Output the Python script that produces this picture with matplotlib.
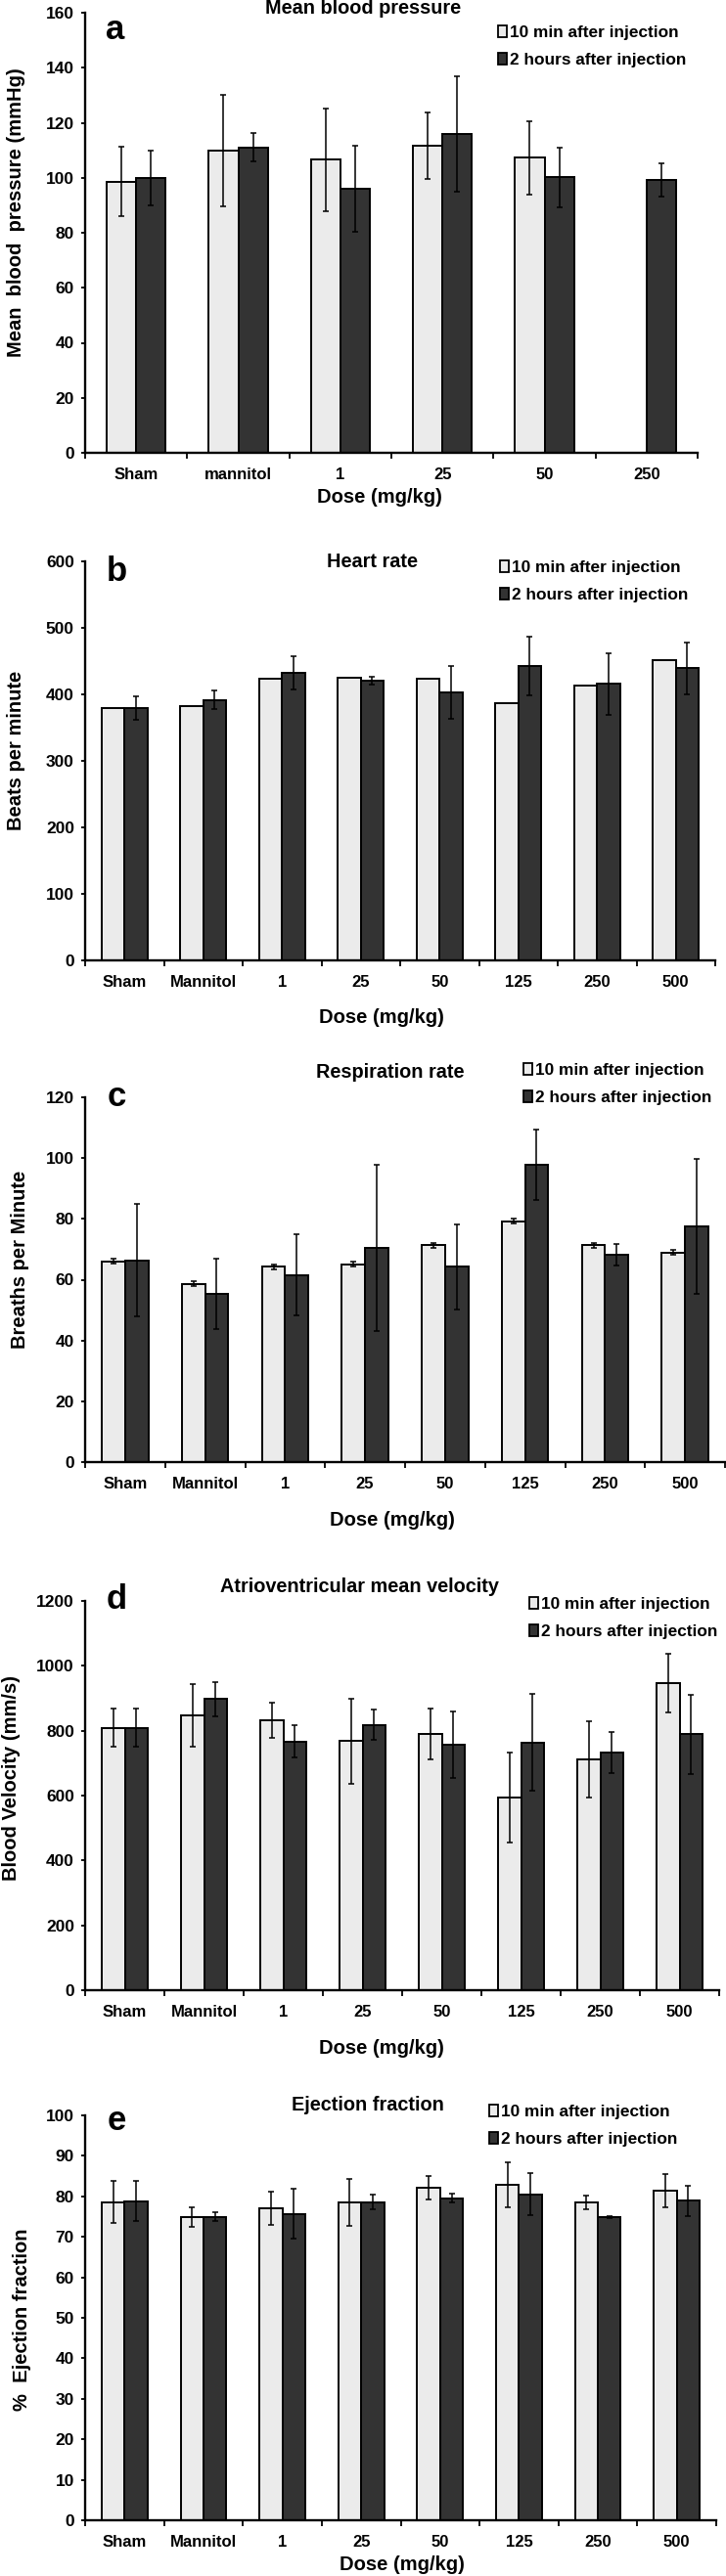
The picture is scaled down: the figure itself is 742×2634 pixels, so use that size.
import numpy as np
import matplotlib
matplotlib.use("Agg")
import matplotlib.pyplot as plt
from matplotlib.patches import Patch

plt.rcParams['font.family'] = ['Liberation Sans', 'DejaVu Sans']
plt.rcParams['font.weight'] = 'bold'

# ---------------- data ----------------
cats_a = ["Sham", "mannitol", "1", "25", "50", "250"]
bp_10min = [98.6, 110.0, 106.6, 111.7, 107.3, np.nan]
bp_10min_err = [12.6, 20.3, 18.6, 12.0, 13.3, np.nan]
bp_2h = [100.0, 111.1, 96.0, 115.8, 100.1, 99.2]
bp_2h_err = [10.0, 5.0, 15.8, 21.0, 11.0, 5.9]

cats = ["Sham", "Mannitol", "1", "25", "50", "125", "250", "500"]
hr_10min = [379.5, 383.0, 423.7, 424.6, 423.2, 386.8, 413.3, 451.6]
hr_10min_err = [np.nan] * 8
hr_2h = [379.5, 391.8, 432.0, 420.7, 403.5, 442.8, 415.8, 439.4]
hr_2h_err = [17.0, 13.5, 25.0, 6.0, 39.7, 44.0, 46.0, 38.8]

rr_10min = [66.1, 58.7, 64.2, 65.0, 71.3, 79.3, 71.3, 68.9]
rr_10min_err = [0.8, 0.8, 0.8, 0.8, 0.8, 0.8, 0.8, 0.8]
rr_2h = [66.4, 55.4, 61.6, 70.4, 64.2, 97.8, 68.3, 77.4]
rr_2h_err = [18.4, 11.5, 13.2, 27.4, 14.0, 11.6, 3.6, 22.2]

av_10min = [809, 847, 833, 768, 790, 595, 712, 946]
av_10min_err = [59, 96, 54, 131, 78, 139, 118, 91]
av_2h = [809, 897, 767, 818, 757, 764, 733, 789]
av_2h_err = [59, 52, 50, 46, 102, 150, 63, 122]

ef_10min = [78.6, 74.9, 77.0, 78.5, 82.2, 82.8, 78.6, 81.4]
ef_10min_err = [5.1, 2.4, 4.1, 5.8, 2.9, 5.5, 1.7, 4.0]
ef_2h = [78.8, 75.0, 75.7, 78.6, 79.5, 80.5, 74.9, 78.9]
ef_2h_err = [5.0, 1.1, 6.2, 1.9, 1.1, 5.2, 0.3, 3.7]

leg_labels = ["10 min after injection", "2 hours after injection"]

# ---------------- layout ----------------
W, H = 742, 2634
fig = plt.figure(figsize=(W / 100, H / 100), dpi=100)

LIGHT = "#ebebeb"
DARK = "#333333"


def fx(x):
    return x / W


def fy(y):
    return 1 - y / H


def panel(box, cats_, v1, e1, v2, e2, ymax, ystep, title, title_xy, letter, letter_xy,
          ylabel, ylabel_xy, xlabel_xy, leg_xy, leg_labels_):
    l, r, t, b = box
    ax = fig.add_axes([fx(l), fy(b), fx(r) - fx(l), fy(t) - fy(b)])
    n = len(cats_)
    centers = np.arange(n) + 0.5
    w = 0.29
    v1 = np.array(v1, float); v2 = np.array(v2, float)
    e1 = np.array(e1, float); e2 = np.array(e2, float)
    m1 = ~np.isnan(v1)
    ax.bar(centers[m1] - w / 2, v1[m1], width=w, color=LIGHT, edgecolor="black", linewidth=1.4, zorder=2)
    ax.bar(centers + w / 2, v2, width=w, color=DARK, edgecolor="black", linewidth=1.4, zorder=2)
    me1 = m1 & ~np.isnan(e1)
    ax.errorbar(centers[me1] - w / 2, v1[me1], yerr=e1[me1], fmt="none", ecolor="black",
                elinewidth=1.1, capsize=2.5, capthick=1.1, zorder=3)
    ax.errorbar(centers + w / 2, v2, yerr=e2, fmt="none", ecolor="black",
                elinewidth=1.1, capsize=2.5, capthick=1.1, zorder=3)
    ax.set_xlim(0, n)
    ax.set_ylim(0, ymax)
    ax.set_yticks(np.arange(0, ymax + ystep / 2, ystep))
    ax.set_xticks(np.arange(n + 1))
    ax.set_xticklabels([])
    ax.set_xticks(centers, minor=True)
    ax.set_xticklabels(cats_, minor=True)
    for s in ["top", "right"]:
        ax.spines[s].set_visible(False)
    for s in ["left", "bottom"]:
        ax.spines[s].set_linewidth(1.7)
    ax.tick_params(axis="y", direction="out", length=3, width=1.3, labelsize=12.5, pad=5)
    ax.tick_params(axis="x", which="major", direction="out", length=4, width=1.3)
    ax.tick_params(axis="x", which="minor", length=0, labelsize=12, pad=11)
    for lab in ax.get_yticklabels() + ax.get_xticklabels(minor=True):
        lab.set_fontweight("bold")
    ax.set_facecolor("white")

    fig.text(fx(title_xy[0]), fy(title_xy[1]), title, ha="center", va="center",
             fontsize=14.3, fontweight="bold")
    fig.text(fx(letter_xy[0]), fy(letter_xy[1]), letter, ha="center", va="baseline",
             fontsize=25, fontweight="bold")
    fig.text(fx(ylabel_xy[0]), fy(ylabel_xy[1]), ylabel, ha="center", va="center",
             rotation=90, fontsize=14.5, fontweight="bold")
    fig.text(fx(xlabel_xy[0]), fy(xlabel_xy[1]), "Dose (mg/kg)", ha="center", va="center",
             fontsize=14.5, fontweight="bold")
    handles = [Patch(facecolor=LIGHT, edgecolor="black", linewidth=1.3),
               Patch(facecolor=DARK, edgecolor="black", linewidth=1.3)]
    leg = ax.legend(handles, leg_labels_, loc="upper left",
                    bbox_to_anchor=(fx(leg_xy[0]), fy(leg_xy[1])),
                    bbox_transform=fig.transFigure, frameon=False,
                    borderaxespad=0, borderpad=0, handlelength=0.55, handleheight=0.7,
                    handletextpad=0.15, labelspacing=0.75,
                    prop={"size": 12.4, "weight": "bold"})
    return ax


panel((87, 713, 13, 463), cats_a, bp_10min, bp_10min_err, bp_2h, bp_2h_err, 160, 20,
      "Mean blood pressure", (371, 9), "a", (118, 40),
      "Mean  blood  pressure (mmHg)", (17, 217), (388, 508), (509, 26), leg_labels)

panel((87, 731, 574, 982), cats, hr_10min, hr_10min_err, hr_2h, hr_2h_err, 600, 100,
      "Heart rate", (380, 575), "b", (119, 594),
      "Beats per minute", (17, 767), (390, 1040), (511, 573), leg_labels)

panel((87, 741, 1122, 1495), cats, rr_10min, rr_10min_err, rr_2h, rr_2h_err, 120, 20,
      "Respiration rate", (399, 1097), "c", (119, 1131),
      "Breaths per Minute", (21, 1288), (401, 1555), (535, 1087), leg_labels)

panel((87, 735, 1637, 2035), cats, av_10min, av_10min_err, av_2h, av_2h_err, 1200, 200,
      "Atrioventricular mean velocity", (367, 1622), "d", (119, 1645),
      "Blood Velocity (mm/s)", (12, 1818), (390, 2095), (541, 1633), leg_labels)

panel((87, 732, 2163, 2577), cats, ef_10min, ef_10min_err, ef_2h, ef_2h_err, 100, 10,
      "Ejection fraction", (376, 2152), "e", (119, 2178),
      "%  Ejection fraction", (23, 2372), (411, 2622), (500, 2152), leg_labels)

fig.savefig("out.png", dpi=100, facecolor="white")
